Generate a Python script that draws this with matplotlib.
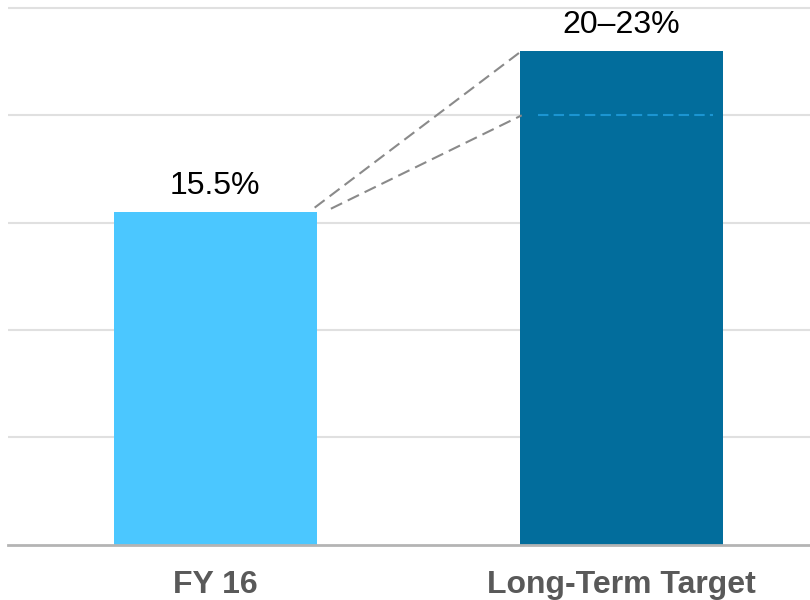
import matplotlib.pyplot as plt

plt.rcParams['font.family'] = ['Liberation Sans', 'DejaVu Sans']

categories = ["FY 16", "Long-Term Target"]
margin_low = [15.5, 20.0]
margin_high = [15.5, 23.0]
value_labels = ["15.5%", "20\u201323%"]
bar_colors = ["#4bc7ff", "#026d9c"]

fig = plt.figure(figsize=(8.1, 6.0), dpi=100)
ax = fig.add_axes([0.01, 0.092, 0.99, 0.908])

x = list(range(len(categories)))
ax.bar(x, margin_high, width=0.5, color=bar_colors, zorder=2)

# low end of the target range, drawn inside the tall bar
ax.hlines(margin_low[1], 1 - 0.205, 1 + 0.225, colors="#1b95d2",
          linestyles=(0, (5, 2.5)), linewidth=1.5, zorder=3)

# connectors from the FY16 bar to both ends of the target range
ax.plot([0.245, 0.755], [margin_high[0] + 0.2, margin_high[1]], color="#8a8a8a",
        linestyle=(0, (6, 3)), linewidth=1.5, zorder=3)
ax.plot([0.285, 0.755], [margin_low[0] + 0.15, margin_low[1]], color="#8a8a8a",
        linestyle=(0, (6, 3)), linewidth=1.5, zorder=3)

for xi, top, lab in zip(x, margin_high, value_labels):
    ax.text(xi, top + 0.5, lab, ha="center", va="bottom", fontsize=23, color="black")

ax.set_xlim(-0.51, 1.465)
ax.set_ylim(0, 25.37)
ax.set_yticks([5, 10, 15, 20, 25])
ax.yaxis.grid(True, color="#e0e0e0", linewidth=1.5, zorder=0)
ax.set_axisbelow(True)
ax.tick_params(axis="y", left=False, labelleft=False)
ax.tick_params(axis="x", length=0, pad=18)
ax.set_xticks(x)
ax.set_xticklabels(categories, fontsize=23, fontweight="bold", color="#595959")
for side in ["top", "right", "left"]:
    ax.spines[side].set_visible(False)
ax.spines["bottom"].set_color("#b4b4b4")
ax.spines["bottom"].set_linewidth(2)

fig.savefig("out.png", dpi=100)
